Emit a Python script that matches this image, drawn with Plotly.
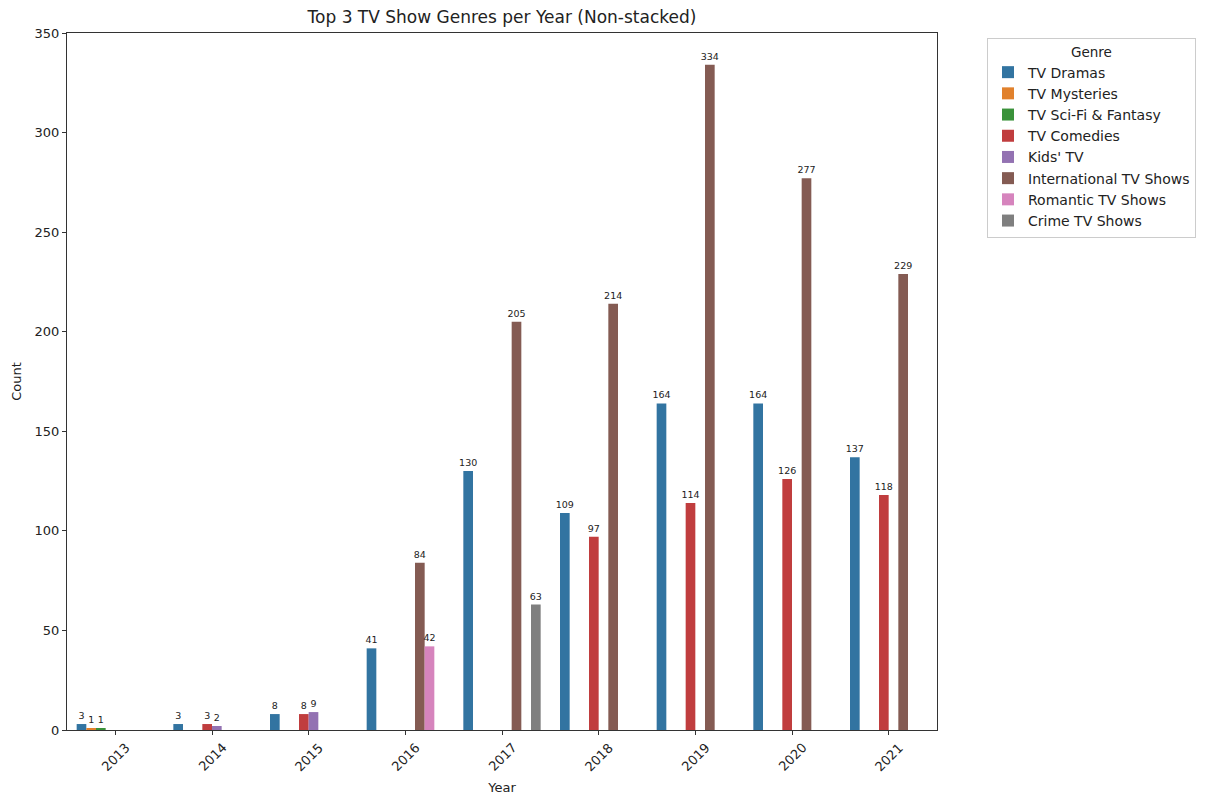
import plotly.graph_objects as go

years = ["2013", "2014", "2015", "2016", "2017", "2018", "2019", "2020", "2021"]
genres = ["TV Dramas", "TV Mysteries", "TV Sci-Fi & Fantasy", "TV Comedies", "Kids' TV",
          "International TV Shows", "Romantic TV Shows", "Crime TV Shows"]
colors = ["#3274a1", "#e1812c", "#3a923a", "#c03d3e", "#9372b2", "#845b53", "#d684bd", "#7f7f7f"]

tv_dramas = [3, 3, 8, 41, 130, 109, 164, 164, 137]
tv_mysteries = [1, None, None, None, None, None, None, None, None]
tv_scifi = [1, None, None, None, None, None, None, None, None]
tv_comedies = [None, 3, 8, None, None, 97, 114, 126, 118]
kids_tv = [None, 2, 9, None, None, None, None, None, None]
international = [None, None, None, 84, 205, 214, 334, 277, 229]
romantic = [None, None, None, 42, None, None, None, None, None]
crime = [None, None, None, None, 63, None, None, None, None]

series = [tv_dramas, tv_mysteries, tv_scifi, tv_comedies, kids_tv, international, romantic, crime]

font = "DejaVu Sans"
fig = go.Figure()
for name, vals, col in zip(genres, series, colors):
    fig.add_trace(go.Bar(
        x=years, y=vals, name=name, marker_color=col, marker_line_width=0,
        text=[str(v) if v is not None else "" for v in vals],
        textposition="outside", constraintext="none", cliponaxis=False,
        textfont=dict(size=9.5, color="#222", family=font),
    ))

# rotated, centred year labels (matplotlib style); x given as category index
for i, yr in enumerate(years):
    fig.add_annotation(x=i, xref="x", y=0, yref="paper", yshift=-27, text=yr,
                       textangle=-45, showarrow=False, xanchor="center", yanchor="middle",
                       font=dict(size=13, color="#222", family=font))

fig.update_layout(
    width=1205, height=795,
    barmode="group", bargap=0.2, bargroupgap=0,
    plot_bgcolor="white", paper_bgcolor="white",
    margin=dict(l=59, r=276, t=25, b=73),
    font=dict(family=font, size=13, color="#222"),
    title=dict(text="Top 3 TV Show Genres per Year (Non-stacked)", xref="paper", x=0.5,
               xanchor="center", yref="container", y=1 - 9 / 795, yanchor="middle",
               font=dict(size=17, color="#222")),
    xaxis=dict(title=dict(text="Year", standoff=48, font=dict(size=13)), type="category",
               range=[-0.5, 8.5], showline=True, linecolor="#333", linewidth=1, mirror=True,
               ticks="outside", ticklen=4, tickcolor="#333", showticklabels=False,
               showgrid=False, automargin=False),
    yaxis=dict(title=dict(text="Count", standoff=10, font=dict(size=13)), range=[0, 350],
               tickvals=[0, 50, 100, 150, 200, 250, 300, 350],
               showline=True, linecolor="#333", linewidth=1, mirror=True,
               ticks="outside", ticklen=4, tickcolor="#333", showgrid=False, zeroline=False,
               tickfont=dict(size=13), automargin=False),
    legend=dict(xref="container", yref="container", x=979 / 1205, xanchor="left",
                y=1 - 30 / 795, yanchor="top",
                bgcolor="white", bordercolor="#ccc", borderwidth=1,
                title=dict(text="Genre", side="top center", font=dict(size=13.5)),
                font=dict(size=14), tracegroupgap=0),
)

fig.write_html("out.html")
